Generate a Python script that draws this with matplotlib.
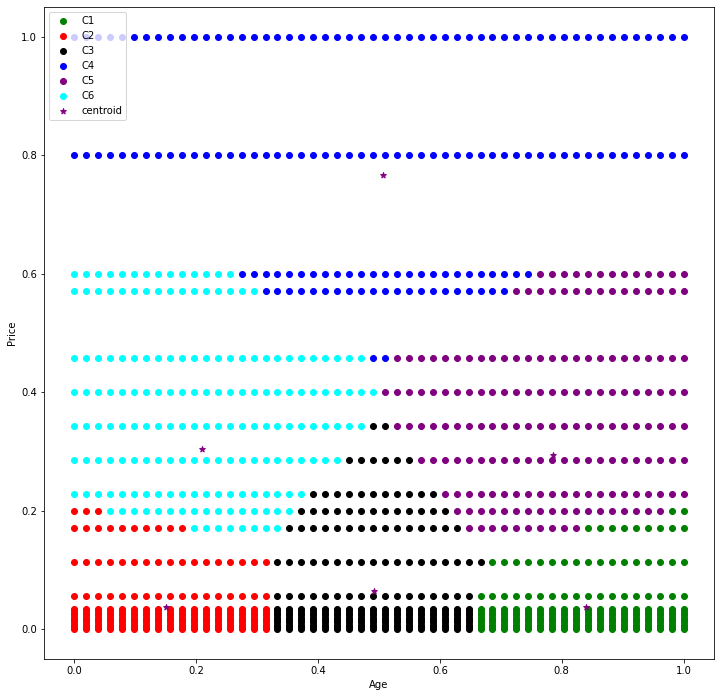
import numpy as np
import matplotlib
matplotlib.use('Agg')
from matplotlib import pyplot as plt

# ages 18..69, min-max scaled like the original
age_years = list(range(18, 70))
age = (np.array(age_years) - min(age_years)) / (max(age_years) - min(age_years))

# normalised price levels, top to bottom
price_levels = [1.0, 0.8, 0.6, 0.5714, 0.4571, 0.4, 0.3429, 0.2857, 0.2286, 0.2, 0.1714, 0.1143, 0.0571]
# runs of (cluster, count) along the age axis for each level
row_runs = [
    [('C4', 52)],
    [('C4', 52)],
    [('C6', 14), ('C4', 25), ('C5', 13)],
    [('C6', 16), ('C4', 21), ('C5', 15)],
    [('C6', 25), ('C4', 2), ('C5', 25)],
    [('C6', 26), ('C5', 26)],
    [('C6', 25), ('C3', 2), ('C5', 25)],
    [('C6', 23), ('C3', 6), ('C5', 23)],
    [('C6', 20), ('C3', 11), ('C5', 21)],
    [('C2', 3), ('C6', 16), ('C3', 13), ('C5', 18), ('C1', 2)],
    [('C2', 10), ('C6', 8), ('C3', 15), ('C5', 10), ('C1', 9)],
    [('C2', 17), ('C3', 18), ('C1', 17)],
    [('C2', 17), ('C3', 17), ('C1', 18)],
]
# the dense band of low prices near zero
low_prices = [0.0, 0.004, 0.008, 0.012, 0.016, 0.02, 0.024, 0.028, 0.032, 0.035]
low_runs = [('C2', 17), ('C3', 17), ('C1', 18)]

clusters = ['C1', 'C2', 'C3', 'C4', 'C5', 'C6']
colors = ['green', 'red', 'black', 'blue', 'purple', 'cyan']

centroid_age = [0.506, 0.209, 0.785, 0.491, 0.151, 0.840]
centroid_price = [0.767, 0.304, 0.295, 0.065, 0.038, 0.037]

points = {c: ([], []) for c in clusters}


def add_row(y, runs):
    i = 0
    for c, n in runs:
        for k in range(i, i + n):
            points[c][0].append(age[k])
            points[c][1].append(y)
        i += n


for y, runs in zip(price_levels, row_runs):
    add_row(y, runs)
for y in low_prices:
    add_row(y, low_runs)

fig = plt.figure(figsize=(721 / 72, 697 / 72), dpi=72)
ax = fig.add_axes([44 / 721, 38 / 697, 670 / 721, 652 / 697])

for c, col in zip(clusters, colors):
    ax.scatter(points[c][0], points[c][1], c=col, label=c)
ax.scatter(centroid_age, centroid_price, marker='*', c='purple', label='centroid')

ax.set_xlabel('Age')
ax.set_ylabel('Price')
ax.legend(loc='upper left')

fig.savefig('out.png', dpi=72)
